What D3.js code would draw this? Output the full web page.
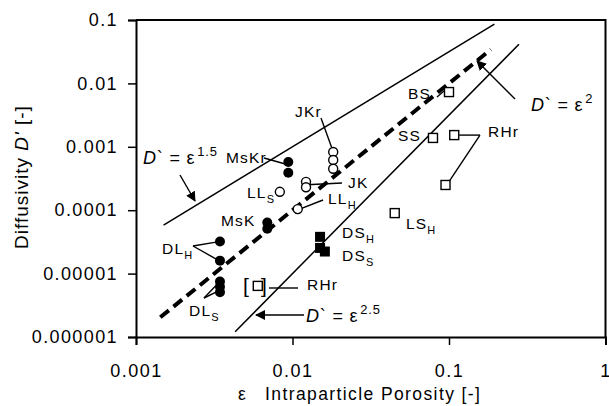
<!DOCTYPE html>
<html>
<head>
<meta charset="utf-8">
<script src="https://cdn.jsdelivr.net/npm/d3@7"></script>
<style>
  body { margin: 0; background: #fff; }
  svg { font-family: "Liberation Sans", Arial, sans-serif; }
</style>
</head>
<body>
<div id="chart"></div>
<script>
// values
var xTicks = [0.001, 0.01, 0.1, 1]
var xTickLabels = ["0.001", "0.01", "0.1", "1"]
var yTicks = [1e-6, 1e-5, 1e-4, 1e-3, 1e-2, 1e-1]
var yTickLabels = ["0.000001", "0.00001", "0.0001", "0.001", "0.01", "0.1"]

// D' = eps^n reference lines, with the eps range each one is drawn over
var powerLines = [
  {n: 1.5, from: 0.0015, to: 0.195, dashed: false},
  {n: 2.0, from: 0.00143, to: 0.185, dashed: true},
  {n: 2.5, from: 0.0043, to: 0.28, dashed: false}
]

var filledCircles = [
  {name: "DLH", eps: 0.00344, d: 3.2e-5},
  {name: "DLH", eps: 0.00344, d: 1.6e-5},
  {name: "DLS", eps: 0.00344, d: 7.5e-6},
  {name: "DLS", eps: 0.00344, d: 6.2e-6},
  {name: "DLS", eps: 0.00344, d: 5.1e-6},
  {name: "MsK", eps: 0.0069, d: 6.4e-5},
  {name: "MsK", eps: 0.0069, d: 5.1e-5},
  {name: "MsKr", eps: 0.0094, d: 5.75e-4},
  {name: "MsKr", eps: 0.0094, d: 3.9e-4}
]
var openCircles = [
  {name: "JKr", eps: 0.0182, d: 8.3e-4},
  {name: "JKr", eps: 0.0182, d: 6.2e-4},
  {name: "JKr", eps: 0.0182, d: 4.5e-4},
  {name: "JK", eps: 0.0122, d: 2.8e-4},
  {name: "JK", eps: 0.0122, d: 2.3e-4},
  {name: "LLS", eps: 0.0083, d: 1.95e-4},
  {name: "LLH", eps: 0.0108, d: 1.04e-4}
]
var filledSquares = [
  {name: "DSH", eps: 0.015, d: 3.8e-5},
  {name: "DSS", eps: 0.015, d: 2.54e-5},
  {name: "DSS", eps: 0.0161, d: 2.23e-5}
]
var openSquares = [
  {name: "BS", eps: 0.1, d: 7.3e-3},
  {name: "SS", eps: 0.079, d: 1.38e-3},
  {name: "RHr", eps: 0.108, d: 1.53e-3},
  {name: "RHr", eps: 0.095, d: 2.5e-4},
  {name: "LSH", eps: 0.045, d: 9.0e-5},
  {name: "RHr[]", eps: 0.006, d: 6.4e-6}
]

var width = 609, height = 406

var x = d3.scaleLog().domain([0.001, 1]).range([136, 605.5])
var y = d3.scaleLog().domain([1e-6, 0.1]).range([337, 20])

var svg = d3.select("#chart").append("svg")
    .attr("width", width)
    .attr("height", height)

svg.append("defs").append("marker")
    .attr("id", "arrow")
    .attr("viewBox", "0 0 10 10")
    .attr("refX", 9).attr("refY", 5)
    .attr("markerWidth", 10).attr("markerHeight", 10)
    .attr("markerUnits", "userSpaceOnUse")
    .attr("orient", "auto")
    .append("path")
    .attr("d", "M0,0L10,5L0,10z")
    .attr("fill", "#000")

// box (top and right)
svg.append("path")
    .attr("d", "M" + x(0.001) + "," + y(0.1) + "H" + x(1) + "V" + y(1e-6))
    .attr("fill", "none")
    .attr("stroke", "#000")
    .attr("stroke-width", 2)

var xAxis = svg.append("g")
    .attr("transform", "translate(0," + y(1e-6) + ")")
    .call(d3.axisBottom(x).tickValues(xTicks).tickSize(8).tickPadding(19)
        .tickFormat(function (d, i) { return xTickLabels[i] }))
xAxis.select(".domain").attr("stroke-width", 2)
xAxis.selectAll(".tick line").attr("stroke-width", 1.5)
xAxis.selectAll("text").attr("font-size", 18).attr("fill", "#000")
    .attr("letter-spacing", 1.5)
    .attr("font-family", "Liberation Sans, Arial, sans-serif")

var yAxis = svg.append("g")
    .attr("transform", "translate(" + x(0.001) + ",0)")
    .call(d3.axisLeft(y).tickValues(yTicks).tickSize(8).tickPadding(10)
        .tickFormat(function (d, i) { return yTickLabels[i] }))
yAxis.select(".domain").attr("stroke-width", 2)
yAxis.selectAll(".tick line").attr("stroke-width", 1.5)
yAxis.selectAll("text").attr("font-size", 18).attr("fill", "#000")
    .attr("letter-spacing", 1.4)
    .attr("font-family", "Liberation Sans, Arial, sans-serif")

// axis titles
var xt = svg.append("text")
    .attr("y", 400)
    .attr("font-size", 17.5)
    .attr("letter-spacing", 1.4)
xt.append("tspan").attr("x", 238).text("ε")
xt.append("tspan").attr("x", 265).text("Intraparticle Porosity [-]")

var yt = svg.append("text")
    .attr("transform", "translate(28,177) rotate(-90)")
    .attr("text-anchor", "middle")
    .attr("font-size", 19)
    .attr("letter-spacing", 1)
yt.append("tspan").text("Diffusivity  ")
yt.append("tspan").attr("font-style", "italic").text("D'")
yt.append("tspan").text(" [-]")

// power law lines
var line = d3.line()
    .x(function (p) { return x(p[0]) })
    .y(function (p) { return y(p[1]) })

svg.append("g").selectAll("path")
    .data(powerLines)
    .enter().append("path")
    .attr("d", function (l) {
        return line([[l.from, Math.pow(l.from, l.n)], [l.to, Math.pow(l.to, l.n)]])
    })
    .attr("fill", "none")
    .attr("stroke", "#000")
    .attr("stroke-width", function (l) { return l.dashed ? 4 : 1.5 })
    .attr("stroke-dasharray", function (l) { return l.dashed ? "11,6" : null })

// leader lines and arrows (pixel layout)
function seg(x1, y1, x2, y2, arrow) {
    svg.append("line")
        .attr("x1", x1).attr("y1", y1).attr("x2", x2).attr("y2", y2)
        .attr("stroke", "#000")
        .attr("stroke-width", 1.4)
        .attr("marker-end", arrow ? "url(#arrow)" : null)
}
function px(p) { return [x(p.eps), y(p.d)] }

// arrows to the power lines
seg(180, 175, 195, 201, true)
seg(515, 99, 477, 61, true)
seg(304, 315, 256, 315, true)

// leaders
seg(321, 118, px(openCircles[2])[0] - 1, px(openCircles[0])[1] - 3)
seg(264, 158, px(filledCircles[7])[0] - 3, px(filledCircles[7])[1] + 2)
seg(342, 183, px(openCircles[3])[0] - 4, 185)
seg(323, 200, px(openCircles[6])[0] + 2, px(openCircles[6])[1])
seg(193, 246, px(filledCircles[0])[0] - 1, px(filledCircles[0])[1])
seg(193, 246, px(filledCircles[1])[0] - 1, px(filledCircles[1])[1])
seg(204, 298, px(filledCircles[2])[0] - 3, px(filledCircles[2])[1] + 3)
seg(204, 298, px(filledCircles[4])[0] - 4, px(filledCircles[4])[1])
seg(269, 288, 298, 288)
seg(px(openSquares[2])[0] + 5, px(openSquares[2])[1], 480, px(openSquares[2])[1])
seg(480, px(openSquares[2])[1], px(openSquares[3])[0] + 4, px(openSquares[3])[1] - 4)
seg(437, 97, 444, 91)

// markers
var pts = svg.append("g")
pts.selectAll(".fc").data(filledCircles).enter().append("circle")
    .attr("cx", function (p) { return x(p.eps) })
    .attr("cy", function (p) { return y(p.d) })
    .attr("r", 5)
    .attr("fill", "#000")
pts.selectAll(".oc").data(openCircles).enter().append("circle")
    .attr("cx", function (p) { return x(p.eps) })
    .attr("cy", function (p) { return y(p.d) })
    .attr("r", 4.5)
    .attr("fill", "#fff")
    .attr("stroke", "#000")
    .attr("stroke-width", 1.4)
pts.selectAll(".fs").data(filledSquares).enter().append("rect")
    .attr("x", function (p) { return x(p.eps) - 5 })
    .attr("y", function (p) { return y(p.d) - 5 })
    .attr("width", 10).attr("height", 10)
    .attr("fill", "#000")
pts.selectAll(".os").data(openSquares).enter().append("rect")
    .attr("x", function (p) { return x(p.eps) - 4.5 })
    .attr("y", function (p) { return y(p.d) - 4.5 })
    .attr("width", 9).attr("height", 9)
    .attr("fill", "#fff")
    .attr("stroke", "#000")
    .attr("stroke-width", 1.4)

// text labels
function label(tx, ty, main, sub) {
    var t = svg.append("text").attr("x", tx).attr("y", ty)
        .attr("font-size", 15.5)
        .attr("letter-spacing", 1.2)
    t.append("tspan").text(main)
    if (sub) t.append("tspan").attr("font-size", 11).attr("dy", 5).text(sub)
    return t
}
label(295, 117, "JKr")
label(226, 163, "MsKr")
label(247, 198, "LL", "S")
label(221, 226, "MsK")
label(162, 254, "DL", "H")
label(189, 316, "DL", "S")
label(348, 188, "JK")
label(328, 204, "LL", "H")
label(342, 238, "DS", "H")
label(342, 261, "DS", "S")
label(406, 229, "LS", "H")
label(408, 99, "BS")
label(398, 141, "SS")
label(488, 137, "RHr")
label(307, 290, "RHr")
svg.append("text").attr("x", 243).attr("y", 293).attr("font-size", 21).text("[")
svg.append("text").attr("x", 261).attr("y", 293).attr("font-size", 21).text("]")

// equations
function eq(tx, ty, exp, size) {
    var t = svg.append("text").attr("x", tx).attr("y", ty).attr("font-size", size)
        .attr("letter-spacing", 0.8)
    t.append("tspan").attr("font-style", "italic").text("D")
    t.append("tspan").text("` = ε")
    t.append("tspan").attr("font-size", size * 0.72).attr("dy", -size * 0.45).attr("dx", 2).text(exp)
}
eq(143, 164, "1.5", 18)
eq(531, 111, "2", 18)
eq(306, 322, "2.5", 18)
</script>
</body>
</html>
